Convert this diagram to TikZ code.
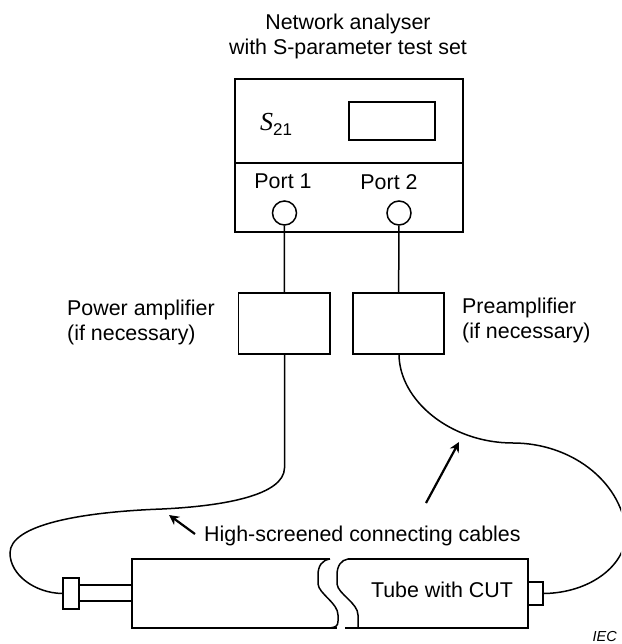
\documentclass[tikz,border=0pt]{standalone}
\usepackage{fontspec}
\setmainfont{Liberation Sans}
\newfontfamily\serifit{Liberation Serif}
\usetikzlibrary{arrows.meta}

\tikzset{
  unitbox/.style={draw, line width=1.5pt, minimum width=#1, inner sep=0pt},
  portcircle/.style={draw, circle, line width=1.5pt, minimum size=24pt, inner sep=0pt},
  label/.style={inner sep=0pt, align=left, font=\fontsize{21.4}{25}\selectfont},
  cable/.style={line width=1.5pt},
  pointer/.style={line width=2.2pt, -{Stealth[length=10pt,width=10pt]}}
}

\begin{document}
\begin{tikzpicture}[x=1pt,y=-1pt]

\useasboundingbox (0,0) rectangle (621,644);
\clip (0,0) rectangle (621,644);

\node[label,align=center] (title) at (348,36) {Network analyser\\with S-parameter test set};

\node[unitbox=228pt, minimum height=153pt] (analyser) at (349,155.5) {};
\draw[line width=1.9pt] (235,163) -- (463,163);
\node[unitbox=86pt, minimum height=38pt] (display) at (392,121) {};
\node[label] (sparam) at (276,124) {{\serifit\itshape\fontsize{26}{26}\selectfont S}\raisebox{-5pt}{\fontsize{17}{17}\selectfont 21}};

\node[label] (portone) at (283,181) {Port 1};
\node[label] (porttwo) at (389,182) {Port 2};
\node[portcircle] (circleone) at (284.5,213) {};
\node[portcircle] (circletwo) at (399,213) {};

\node[unitbox=91.5pt, minimum height=61pt] (poweramp) at (284.25,323.5) {};
\node[unitbox=91pt, minimum height=61pt] (preamp) at (398.5,323.5) {};
\node[label,anchor=west] (powertext) at (67,322) {Power amplifier\\(if necessary)};
\node[label,anchor=west] (pretext) at (462,320) {Preamplifier\\(if necessary)};

\draw[cable] (circleone) -- (poweramp);
\draw[cable] (circletwo) -- (preamp);

% tube, broken in the middle
\draw[line width=1.5pt] (330,559) -- (132,559) -- (132,628) -- (337,628);
\draw[line width=1.5pt] (330,559) .. controls (322,560) and (318,566) .. (318,575) -- (318,584)
  .. controls (319,594) and (338,603) .. (338,615) -- (338,621) .. controls (338,626) and (336,627) .. (330,628);
\draw[line width=1.5pt] (348,559) -- (528,559) -- (528,628) -- (345,628);
\draw[line width=1.5pt] (348,559) .. controls (341,560) and (337,566) .. (337,575) -- (337,584)
  .. controls (338,594) and (358,603) .. (358,615) -- (358,628);

\node[unitbox=16pt, minimum height=31pt, fill=white] (leftplug) at (71,593.5) {};
\node[unitbox=53pt, minimum height=16pt] (stub) at (105.5,593) {};
\node[unitbox=15pt, minimum height=23pt] (rightplug) at (535.5,593.5) {};

\coordinate (leftend) at (284.5,354);
\coordinate (rightend) at (399,354);

% cables
\draw[cable] (leftend) -- (284.5,468) .. controls (284,495) and (225,506) .. (162,509)
  .. controls (80,512) and (10,525) .. (10,553) .. controls (10,575) and (35,593) .. (leftplug.west);
\draw[cable] (rightend) .. controls (399,400) and (450,443) .. (513,443)
  .. controls (570,443) and (620,480) .. (626,530) .. controls (628,565) and (590,593) .. (rightplug.east);

\node[label,anchor=west] (cabletext) at (204,536) {High-screened connecting cables};
\coordinate (pointerleft) at (169,515);
\coordinate (pointerright) at (459,442);
\draw[pointer] (195,534) -- (pointerleft);
\draw[pointer] (426,503) -- (pointerright);

\node[label] (tubetext) at (442,590) {Tube with CUT};
\node[label,anchor=east,font=\fontsize{14.5}{15}\selectfont\itshape] (iec) at (617,636.5) {IEC};

\end{tikzpicture}
\end{document}
